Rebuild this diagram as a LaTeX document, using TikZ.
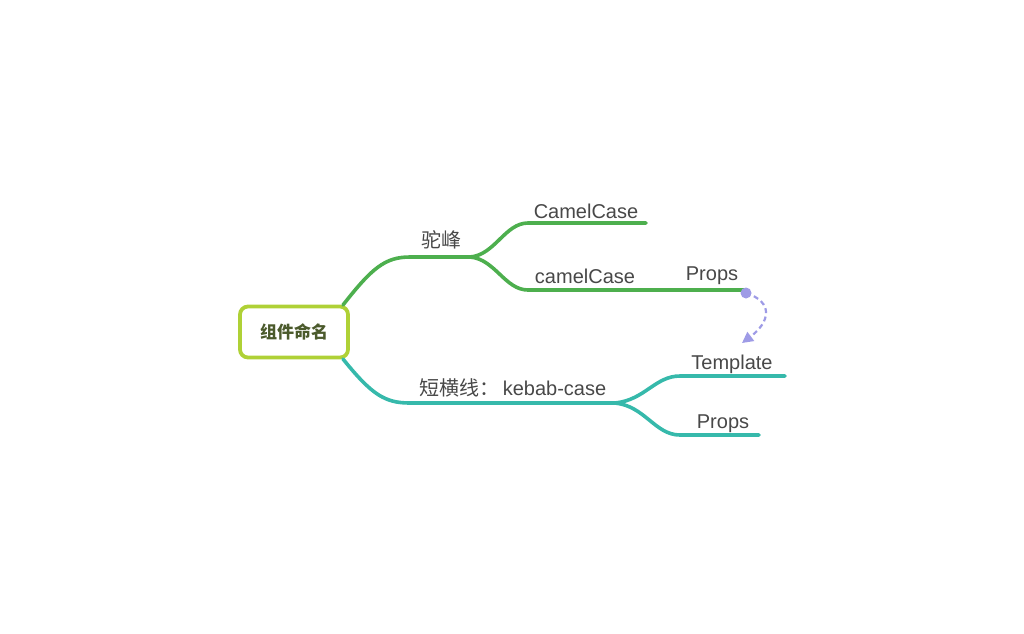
\documentclass[tikz,border=0pt]{standalone}
\usepackage{fontspec}
\setmainfont{Liberation Sans}
\newfontfamily\cjk{Noto Sans CJK SC}
\usetikzlibrary{arrows.meta}
\definecolor{lime}{HTML}{AFD136}
\definecolor{grn}{HTML}{4DAF4E}
\definecolor{teal}{HTML}{36B9AB}
\definecolor{lav}{HTML}{9E9BE6}
\definecolor{txt}{HTML}{484848}
\definecolor{roottxt}{HTML}{4B5A2C}
\begin{document}
\begin{tikzpicture}[x=1pt,y=-1pt,
  lbl/.style={text=txt,font=\fontsize{20}{20}\selectfont,inner sep=0pt,anchor=base},
  cjklbl/.style={text=txt,font=\cjk\fontsize{20}{20}\selectfont,inner sep=0pt,anchor=base},
  gline/.style={grn,line width=3.6pt,line cap=round},
  tline/.style={teal,line width=3.6pt,line cap=round}]
\useasboundingbox (0,0) rectangle (1024,633);
\node[draw=lime,line width=3.8pt,rounded corners=8pt,minimum width=108pt,minimum height=51pt,
  text=roottxt,font=\cjk\bfseries\fontsize{17}{17}\selectfont] (root) at (294,332) {组件命名};
\coordinate (r1) at (343,305);
\coordinate (r2) at (343,359);
% green branch
\coordinate (a0) at (410,257);
\coordinate (a1) at (470,257);
\node[cjklbl] (tuofeng) at (441,247) {驼峰};
\draw[gline] (r1) .. controls (372,268) and (385,257) .. (a0) -- (a1);
\coordinate (b0) at (528,223);
\coordinate (b1) at (646,223);
\node[lbl] (camel1) at (586,218) {CamelCase};
\draw[gline] (a1) .. controls (495,255) and (505,223) .. (b0) -- (b1);
\coordinate (c0) at (528,290);
\coordinate (c1) at (640,290);
\node[lbl] (camel2) at (585,283) {camelCase};
\draw[gline] (a1) .. controls (495,259) and (505,290) .. (c0) -- (c1);
\coordinate (d1) at (745,290);
\node[lbl] (props1) at (712,280) {Props};
\draw[gline] (c1) -- (d1);
\fill[lav] (746,293) circle (5.5pt);
\coordinate (dot) at (746,293);
\coordinate (arr) at (742,343);
\draw[lav,line width=2.2pt,dash pattern=on 5pt off 3.5pt,-{Triangle[length=11pt,width=11pt]}]
  (dot) .. controls (774,302) and (770,322) .. (arr);
% teal branch
\coordinate (e0) at (410,403);
\coordinate (e1) at (615,403);
\node[cjklbl] (kebab) at (513,395) {短横线：\hspace{3pt}{\rmfamily kebab-case}};
\draw[tline] (r2) .. controls (372,395) and (385,403) .. (e0) -- (e1);
\coordinate (f0) at (680,376);
\coordinate (f1) at (785,376);
\node[lbl] (templ) at (732,369) {Template};
\draw[tline] (e1) .. controls (645,400) and (655,376) .. (f0) -- (f1);
\coordinate (g0) at (680,435);
\coordinate (g1) at (759,435);
\node[lbl] (props2) at (723,428) {Props};
\draw[tline] (e1) .. controls (645,406) and (655,435) .. (g0) -- (g1);
\end{tikzpicture}
\end{document}
